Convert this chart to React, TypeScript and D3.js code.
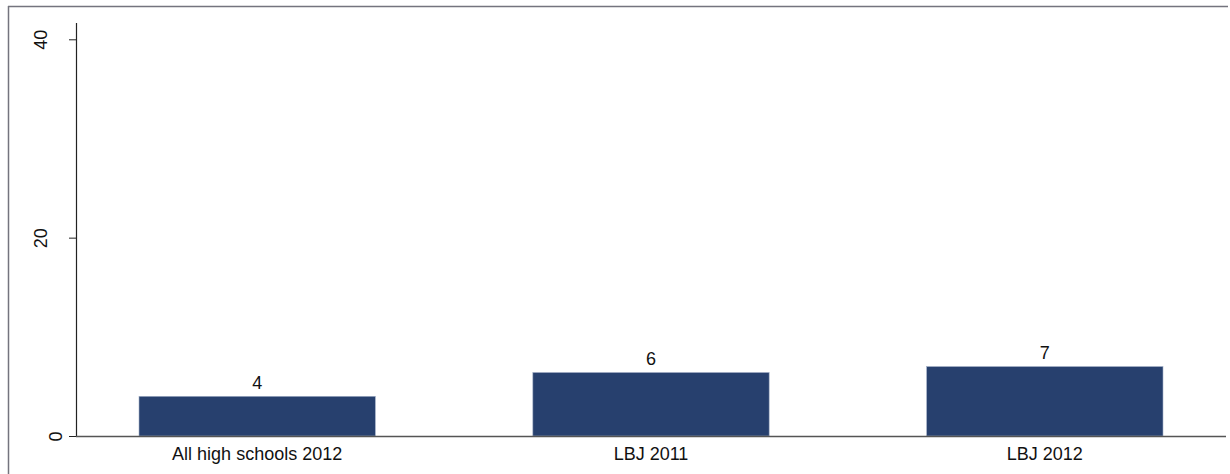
import React, { useEffect, useRef } from "react";
import * as d3 from "d3";

const categories = ["All high schools 2012", "LBJ 2011", "LBJ 2012"];
const values = [4.0, 6.4, 7.0];
const valueLabels = ["4", "6", "7"];
const yTicks = [0, 20, 40];

const W = 1230;
const H = 474;
const FONT = "'Liberation Sans', Arial, sans-serif";

export default function App() {
  const ref = useRef<SVGSVGElement | null>(null);

  useEffect(() => {
    const svg = d3.select(ref.current);
    svg.selectAll("*").remove();

    const plotLeft = 76;
    const plotRight = 1226;
    const y0 = 436;
    const yTop = 39.3;

    const x = d3
      .scaleBand<string>()
      .domain(categories)
      .range([plotLeft, plotRight])
      .paddingInner(0.4)
      .paddingOuter(0.16);
    const y = d3.scaleLinear().domain([0, 40]).range([y0, yTop]);

    // outer border
    svg.append("line").attr("x1", 8).attr("x2", 1228).attr("y1", 6.5).attr("y2", 6.5)
      .attr("stroke", "#74747e").attr("stroke-width", 1.5);
    svg.append("line").attr("x1", 8.5).attr("x2", 8.5).attr("y1", 6).attr("y2", H)
      .attr("stroke", "#74747e").attr("stroke-width", 1.5);

    // bars
    svg.append("g").selectAll("rect").data(values).join("rect")
      .attr("x", (_d, i) => x(categories[i])!)
      .attr("width", x.bandwidth())
      .attr("y", (d) => y(d))
      .attr("height", (d) => y0 - y(d))
      .attr("fill", "#27406e")
      .attr("stroke", "#9eabc3")
      .attr("stroke-width", 0.6);

    // value labels
    svg.append("g").selectAll("text").data(values).join("text")
      .attr("x", (_d, i) => x(categories[i])! + x.bandwidth() / 2)
      .attr("y", (d) => y(d) - 7.5)
      .attr("text-anchor", "middle")
      .attr("font-family", FONT)
      .attr("font-size", 18)
      .attr("fill", "#111")
      .text((_d, i) => valueLabels[i]);

    // y axis
    const yAxis = d3.axisLeft(y).tickValues(yTicks).tickSize(7).tickSizeOuter(0).tickFormat(d3.format("d"));
    const gy = svg.append("g").attr("transform", `translate(${plotLeft},0)`).call(yAxis);
    gy.select(".domain").remove();
    gy.selectAll(".tick line").attr("stroke", "#222");
    gy.selectAll(".tick text")
      .attr("font-family", FONT)
      .attr("font-size", 18)
      .attr("fill", "#111")
      .attr("text-anchor", "middle")
      .attr("dy", null)
      .attr("x", null)
      .attr("transform", (d: any) => `translate(${d === 0 ? -14 : -29},0) rotate(-90)`);
    svg.append("line")
      .attr("x1", plotLeft + 0.5).attr("x2", plotLeft + 0.5)
      .attr("y1", y0).attr("y2", 23)
      .attr("stroke", "#222").attr("stroke-width", 1.2);

    // x baseline
    svg.append("line")
      .attr("x1", plotLeft).attr("x2", plotRight)
      .attr("y1", y0 + 0.5).attr("y2", y0 + 0.5)
      .attr("stroke", "#555").attr("stroke-width", 1.5);

    // x labels
    svg.append("g").selectAll("text").data(categories).join("text")
      .attr("x", (d) => x(d)! + x.bandwidth() / 2)
      .attr("y", 460)
      .attr("text-anchor", "middle")
      .attr("font-family", FONT)
      .attr("font-size", 18)
      .attr("fill", "#111")
      .text((d) => d);
  }, []);

  return (
    <svg
      ref={ref}
      width={W}
      height={H}
      style={{ position: "absolute", left: 0, top: 0, background: "#fff" }}
    />
  );
}
